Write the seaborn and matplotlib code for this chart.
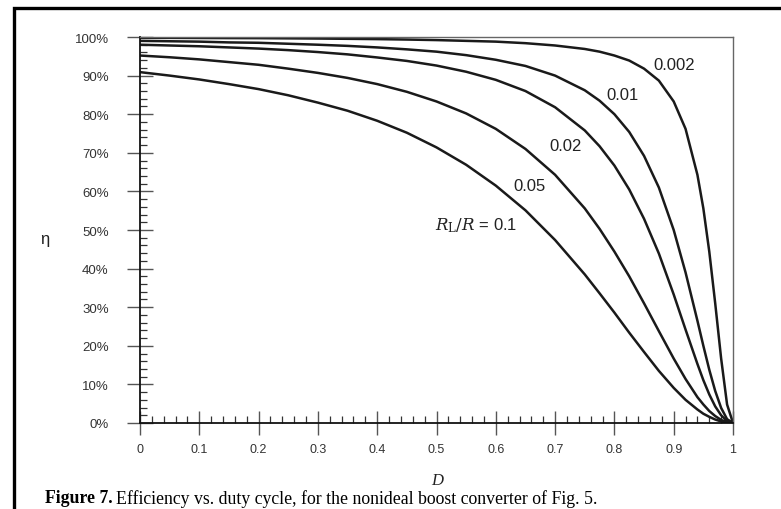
import matplotlib
matplotlib.use("Agg")
import matplotlib.pyplot as plt
import seaborn as sns
import pandas as pd
from matplotlib.ticker import MultipleLocator, FuncFormatter
from matplotlib.patches import Rectangle

# Duty cycle values at which curves were read
D = [0.0, 0.05, 0.1, 0.15, 0.2, 0.25, 0.3, 0.35, 0.4, 0.45, 0.5, 0.55, 0.6, 0.65, 0.7, 0.75,
     0.775, 0.8, 0.825, 0.85, 0.875, 0.9, 0.92, 0.94, 0.95, 0.96, 0.97, 0.98, 0.99, 1.0]

# Efficiency (%), one list per R_L/R ratio
eta_0002 = [99.8, 99.78, 99.75, 99.72, 99.7, 99.65, 99.6, 99.53, 99.45, 99.34, 99.2, 99.0, 98.8,
            98.4, 97.8, 96.9, 96.2, 95.2, 93.9, 91.8, 88.7, 83.3, 76.2, 64.3, 55.6, 44.4, 31.0,
            16.7, 4.8, 0.0]
eta_001 = [99.0, 98.9, 98.8, 98.6, 98.5, 98.25, 98.0, 97.7, 97.3, 96.8, 96.2, 95.3, 94.1, 92.5,
           90.0, 86.2, 83.5, 80.0, 75.4, 69.2, 61.0, 50.0, 39.0, 26.5, 20.0, 13.8, 8.3, 3.9, 1.0,
           0.0]
eta_002 = [98.0, 97.8, 97.6, 97.3, 97.0, 96.6, 96.1, 95.5, 94.7, 93.8, 92.6, 91.0, 88.9, 86.0,
           81.8, 75.8, 71.7, 66.7, 60.5, 52.9, 43.9, 33.3, 24.2, 15.3, 11.1, 7.4, 4.3, 2.0, 0.5,
           0.0]
eta_005 = [95.2, 94.75, 94.2, 93.5, 92.8, 91.8, 90.7, 89.4, 87.8, 85.8, 83.3, 80.2, 76.2, 71.0,
           64.3, 55.6, 50.3, 44.4, 38.0, 31.0, 23.8, 16.7, 11.4, 6.7, 4.8, 3.1, 1.8, 0.8, 0.2,
           0.0]
eta_01 = [90.9, 90.0, 89.0, 87.8, 86.5, 84.9, 83.0, 80.9, 78.3, 75.2, 71.4, 66.9, 61.5, 55.1,
          47.4, 38.5, 33.6, 28.6, 23.4, 18.4, 13.5, 9.1, 6.0, 3.5, 2.4, 1.6, 0.9, 0.4, 0.1, 0.0]

ratios = ["0.002", "0.01", "0.02", "0.05", "0.1"]
series = [eta_0002, eta_001, eta_002, eta_005, eta_01]

df = pd.concat([pd.DataFrame({"D": D, "eta": s, "ratio": r}) for r, s in zip(ratios, series)],
               ignore_index=True)

sns.set_style("white")
plt.rcParams["font.family"] = ["Liberation Sans", "DejaVu Sans"]

fig = plt.figure(figsize=(7.81, 5.10), dpi=100)
# outer frame (left and top edges visible)
fig.patches.append(Rectangle((13.5 / 781, -0.1), 2.0, 1 - 9 / 510 + 0.1, transform=fig.transFigure,
                             fill=False, edgecolor="black", linewidth=2.4, zorder=0))

ax = fig.add_axes([140 / 781, 1 - 424 / 510, 593 / 781, 386 / 510])
sns.lineplot(data=df, x="D", y="eta", units="ratio", estimator=None, color="#1a1a1a",
             linewidth=1.8, ax=ax, legend=False)

ax.set_xlim(0, 1)
ax.set_ylim(0, 100)
ax.xaxis.set_major_locator(MultipleLocator(0.1))
ax.xaxis.set_minor_locator(MultipleLocator(0.02))
ax.yaxis.set_major_locator(MultipleLocator(10))
ax.yaxis.set_minor_locator(MultipleLocator(2))
ax.xaxis.set_major_formatter(FuncFormatter(lambda v, p: "0" if abs(v) < 1e-9 else ("1" if abs(v - 1) < 1e-9 else f"{v:.1f}")))
ax.yaxis.set_major_formatter(FuncFormatter(lambda v, p: f"{v:.0f}%"))

ax.tick_params(axis="x", which="major", direction="inout", length=17, width=1.0, color="#555555",
               labelsize=9, labelcolor="#333333", pad=6, bottom=True)
ax.tick_params(axis="x", which="minor", direction="in", length=5, width=0.9, color="#333333", bottom=True)
ax.tick_params(axis="y", which="major", direction="inout", length=19, width=1.0, color="#555555",
               labelsize=9.5, labelcolor="#333333", pad=13, left=True)
ax.tick_params(axis="y", which="minor", direction="in", length=5, width=0.9, color="#333333", left=True)

for side in ["left", "bottom"]:
    ax.spines[side].set_color("#111111")
    ax.spines[side].set_linewidth(1.3)
for side in ["top", "right"]:
    ax.spines[side].set_color("#666666")
    ax.spines[side].set_linewidth(1.0)

ax.set_xlabel("")
ax.set_ylabel("")

# curve labels
lab_kw = dict(fontsize=12, color="#222222", ha="left", va="center")
ax.text(0.866, 93.0, "0.002", **lab_kw)
ax.text(0.787, 85.0, "0.01", **lab_kw)
ax.text(0.69, 72.0, "0.02", **lab_kw)
ax.text(0.63, 61.5, "0.05", **lab_kw)
ax.text(0.498, 51.5, r"$R_{\mathrm{L}}/R$ = 0.1", fontsize=12, color="#222222", ha="left",
        va="center", math_fontfamily="dejavuserif")

fig.text(45 / 781, 1 - 240 / 510, "η", fontsize=12, ha="center", va="center", color="#222222")
fig.text(437 / 781, 1 - 481 / 510, "D", fontsize=12, ha="center", va="center", style="italic",
         family="Liberation Serif", color="#222222")
t1 = fig.text(45 / 781, 1 - 499 / 510, "Figure 7.", fontsize=12.8, ha="left", va="center",
              family="Liberation Serif", weight="bold", color="black")
fig.canvas.draw()
bb = t1.get_window_extent()
fig.text(bb.x1 / 781 + 3 / 781, 1 - 499 / 510,
         "Efficiency vs. duty cycle, for the nonideal boost converter of Fig. 5.",
         fontsize=12.8, ha="left", va="center", family="Liberation Serif", color="black")

fig.savefig("out.png", dpi=100)
